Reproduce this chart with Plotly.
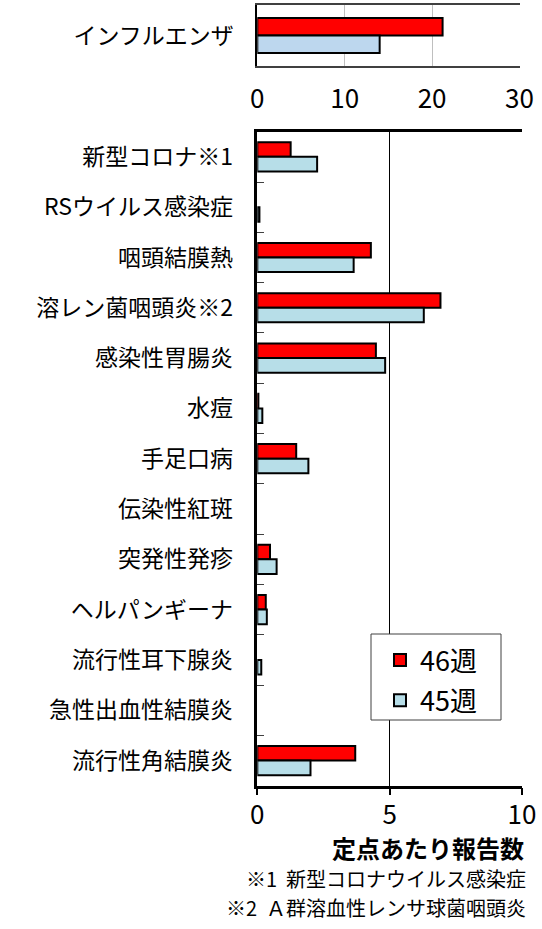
import plotly.graph_objects as go

FONT = "Noto Sans CJK JP"

flu_label = ["インフルエンザ"]
flu_w46 = [21.2]
flu_w45 = [14.0]

categories = ["新型コロナ※1", "RSウイルス感染症", "咽頭結膜熱", "溶レン菌咽頭炎※2",
              "感染性胃腸炎", "水痘", "手足口病", "伝染性紅斑", "突発性発疹",
              "ヘルパンギーナ", "流行性耳下腺炎", "急性出血性結膜炎", "流行性角結膜炎"]
w46 = [1.26, 0.0, 4.29, 6.92, 4.48, 0.04, 1.47, 0.0, 0.48, 0.32, 0.0, 0.0, 3.70]
w45 = [2.26, 0.08, 3.64, 6.29, 4.83, 0.19, 1.93, 0.0, 0.73, 0.36, 0.15, 0.0, 2.01]

series_names = ["46週", "45週"]
top_ticks = [0, 10, 20, 30]
bottom_ticks = [0, 5, 10]

RED = "#FF0000"
BLUE_TOP = "#BDD7EE"
BLUE_BOT = "#B7DEE8"


def outline(vals):
    return dict(color="black", width=[2 if v > 0 else 0 for v in vals])


fig = go.Figure()
fig.add_trace(go.Bar(y=flu_label, x=flu_w46, orientation="h", name=series_names[0],
                     marker=dict(color=RED, line=outline(flu_w46)), xaxis="x", yaxis="y",
                     showlegend=False))
fig.add_trace(go.Bar(y=flu_label, x=flu_w45, orientation="h", name=series_names[1],
                     marker=dict(color=BLUE_TOP, line=outline(flu_w45)), xaxis="x", yaxis="y",
                     showlegend=False))
fig.add_trace(go.Bar(y=categories, x=w46, orientation="h", name=series_names[0],
                     legendgroup="a",
                     marker=dict(color=RED, line=outline(w46)), xaxis="x2", yaxis="y2"))
fig.add_trace(go.Bar(y=categories, x=w45, orientation="h", name=series_names[1],
                     legendgroup="b",
                     marker=dict(color=BLUE_BOT, line=outline(w45)), xaxis="x2", yaxis="y2"))

W, H = 542, 929
def px_x(p): return p / W
def px_y(p): return 1 - p / H

LABEL_SIZE = 23
TICK_SIZE = 26

fig.update_layout(
    width=W, height=H,
    margin=dict(l=0, r=0, t=0, b=0, autoexpand=False),
    paper_bgcolor="white", plot_bgcolor="white",
    barmode="group", bargap=0.42, bargroupgap=0.0,
    font=dict(family=FONT, color="black", size=19),
    xaxis=dict(domain=[px_x(257.3), px_x(519.5)], anchor="y", range=[0, 30],
               tickvals=top_ticks, showgrid=True, gridcolor="#BFBFBF", gridwidth=1,
               zeroline=False, showline=True, linecolor="#404040", linewidth=1.5, mirror=True,
               ticks="", ticklabelstandoff=9, tickfont=dict(size=TICK_SIZE, family=FONT),
               automargin=False),
    yaxis=dict(domain=[px_y(65.7), px_y(5.3)], anchor="x", autorange="reversed",
               showline=True, linecolor="black", linewidth=2, ticks="inside",
               tickson="boundaries", ticklen=7, tickcolor="#404040",
               ticklabelstandoff=17, tickfont=dict(size=LABEL_SIZE, family=FONT),
               automargin=False),
    xaxis2=dict(domain=[px_x(257.3), px_x(522)], anchor="y2", range=[0, 10],
                tickvals=bottom_ticks, showgrid=True, gridcolor="black", gridwidth=1,
                zeroline=False, showline=True, linecolor="black", linewidth=2.5, mirror=True,
                ticks="outside", ticklen=7, tickwidth=2, tickcolor="black",
                ticklabelstandoff=-3, tickfont=dict(size=TICK_SIZE, family=FONT),
                automargin=False),
    yaxis2=dict(domain=[px_y(785.7), px_y(131.7)], anchor="x2", autorange="reversed",
                showline=True, linecolor="black", linewidth=2.5, ticks="inside",
                tickson="boundaries", ticklen=7, tickcolor="#404040",
                ticklabelstandoff=17, tickfont=dict(size=LABEL_SIZE, family=FONT),
                automargin=False),
    legend=dict(x=px_x(380), y=px_y(636), xanchor="left", yanchor="top",
                bgcolor="rgba(0,0,0,0)", borderwidth=0,
                font=dict(size=27, family=FONT), traceorder="grouped", tracegroupgap=2,
                itemwidth=30),
    shapes=[
        dict(type="rect", xref="paper", yref="paper", layer="above",
             x0=px_x(371), x1=px_x(501), y0=px_y(720), y1=px_y(634),
             fillcolor="white", line=dict(color="#404040", width=1)),
    ],
    annotations=[
        dict(text="<b>定点あたり報告数</b>", x=px_x(526), y=px_y(847), xref="paper", yref="paper",
             xanchor="right", yanchor="middle", showarrow=False, font=dict(size=24, family=FONT)),
        dict(text="※1  新型コロナウイルス感染症", x=px_x(528), y=px_y(878), xref="paper", yref="paper",
             xanchor="right", yanchor="middle", showarrow=False, font=dict(size=20, family=FONT)),
        dict(text="※2  Ａ群溶血性レンサ球菌咽頭炎", x=px_x(528), y=px_y(907), xref="paper", yref="paper",
             xanchor="right", yanchor="middle", showarrow=False, font=dict(size=20, family=FONT)),
    ],
)

fig.write_html("out.html", config={"displayModeBar": False},
               post_script="document.body.style.margin='0';document.body.style.overflow='hidden';")
